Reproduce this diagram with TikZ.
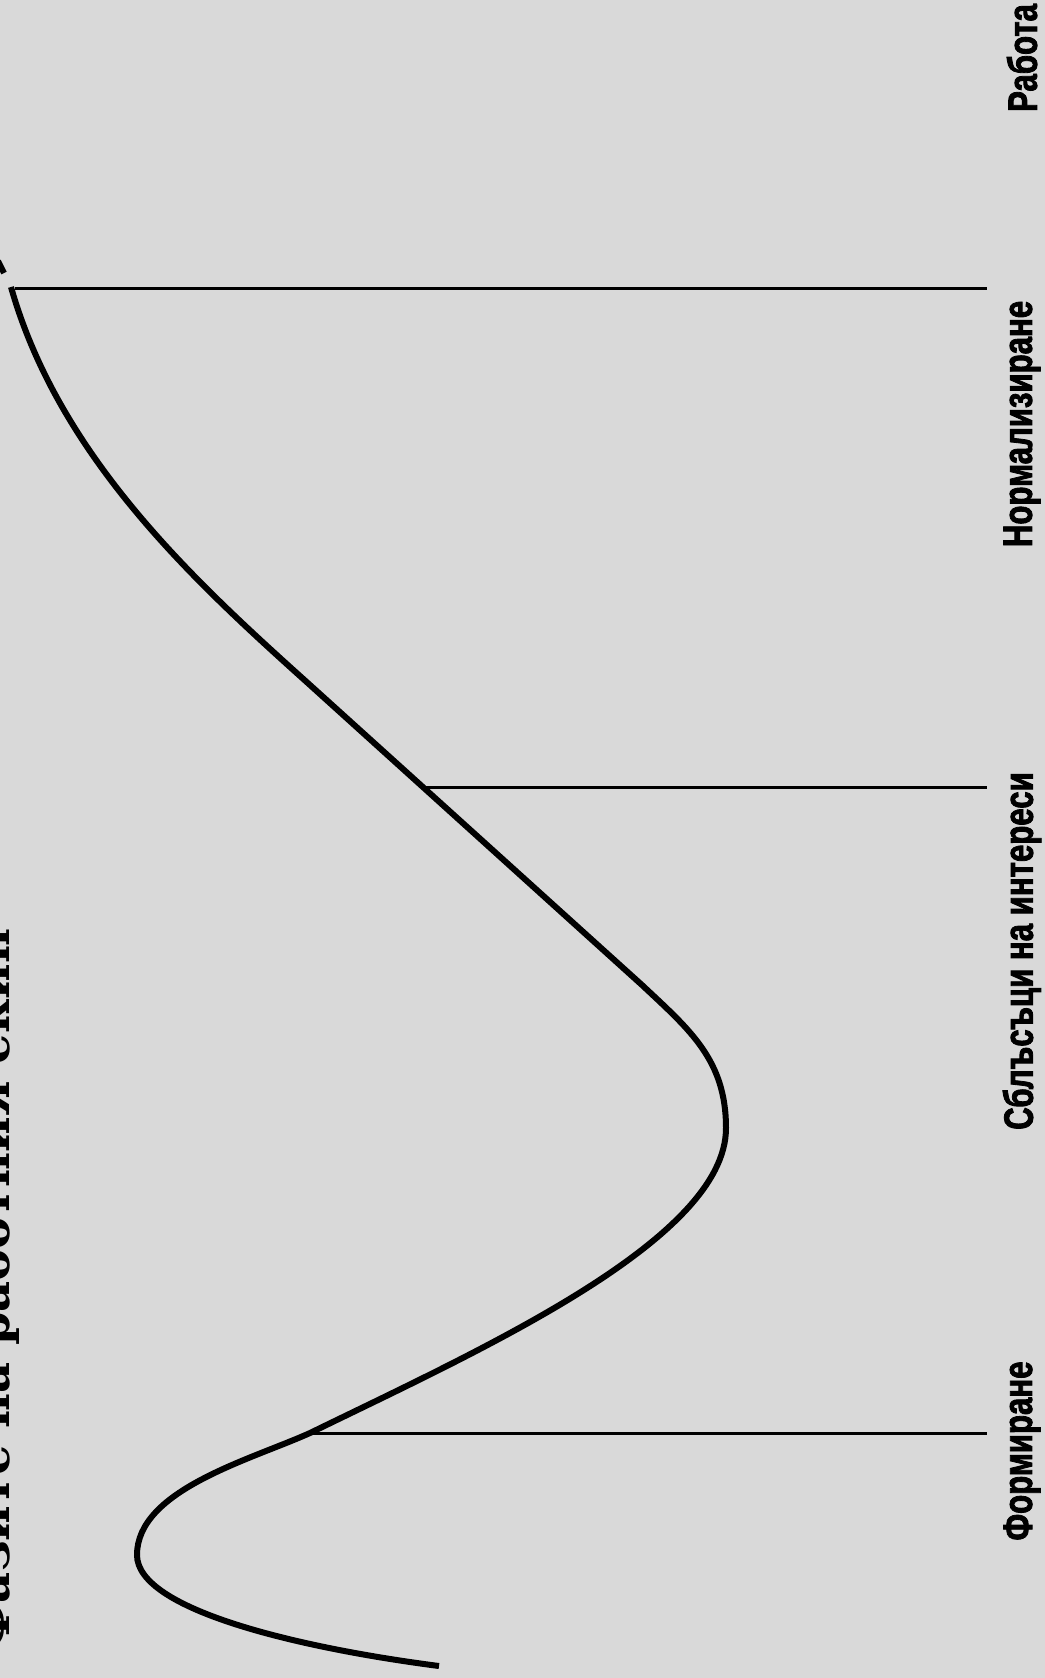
\documentclass[tikz,border=0pt]{standalone}
\usepackage{fontspec}
\newfontfamily\lblfont[FakeStretch=0.76, FakeBold=2]{Liberation Sans Bold}
\newfontfamily\titlefont{DejaVu Serif}
\definecolor{bgc}{HTML}{D9D9D9}
\begin{document}
\begin{tikzpicture}[x=0.5pt,y=-0.5pt,
  curve/.style={line width=3pt},
  guide/.style={line width=1.5pt},
  lbl/.style={rotate=90, font=\lblfont\fontsize{20.5}{24}\selectfont, inner sep=0pt}]
\fill[bgc] (0,0) rectangle (1045,1678);
\useasboundingbox (0,0) rectangle (1045,1678);
% title
\node[rotate=90, anchor=base west, inner sep=0pt,
      font=\titlefont\bfseries\fontsize{24}{28}\selectfont] (title) at (10,1649) {Фазите на работния екип};
% labels
\node[lbl] (rabota) at (1022,58) {Работа};
\node[lbl] (norm) at (1022,424) {Нормализиране};
\node[lbl] (sbl) at (1022,951) {Сблъсъци на интереси};
\node[lbl] (form) at (1022,1451) {Формиране};
% guide coordinates
\coordinate (g1a) at (15,288);   \coordinate (g1b) at (987,288);
\coordinate (g2a) at (424,787);  \coordinate (g2b) at (987,787);
\coordinate (g3a) at (310,1433); \coordinate (g3b) at (987,1433);
\draw[guide] (g1a) -- (g1b);
\draw[guide] (g2a) -- (g2b);
\draw[guide] (g3a) -- (g3b);
% curve
\draw[curve] (439,1666) .. controls (300,1648) and (137,1610) .. (137,1555)
  .. controls (137,1490) and (250,1460) .. (g3a)
  .. controls (480,1350) and (726,1240) .. (726,1128)
  .. controls (726,1060) and (690,1030) .. (642,985)
  -- (310,685)
  .. controls (200,586) and (60,460) .. (11,287);
\draw[curve] (4,273) -- (-2,261);
\end{tikzpicture}
\end{document}
